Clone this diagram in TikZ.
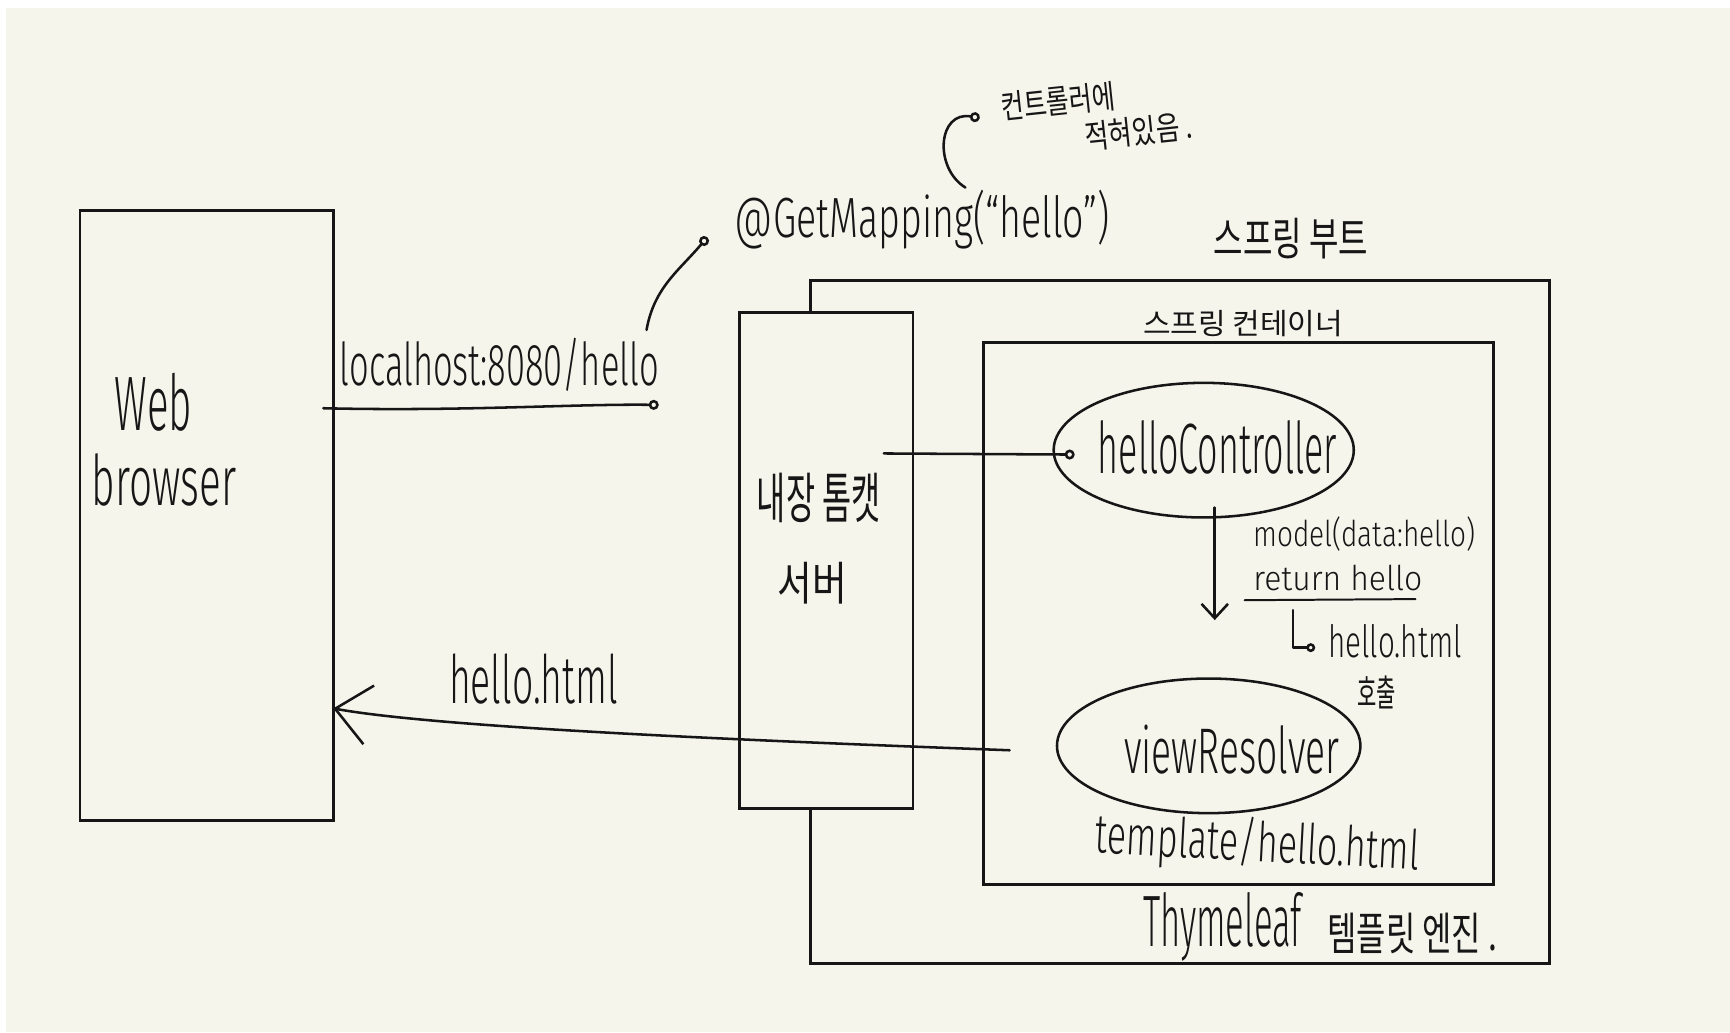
\documentclass[tikz,border=0pt]{standalone}
\usepackage{fontspec}
\setmainfont{Fira Sans Light}
\newfontfamily\kr{Noto Sans CJK KR}
\usetikzlibrary{arrows.meta,shapes.geometric,calc}
\definecolor{paper}{RGB}{245,245,236}
\definecolor{ink}{RGB}{22,22,22}
\newcommand{\fitw}[3]{\resizebox{#1pt}{#2pt}{#3}}
\newcommand{\fitk}[3]{\resizebox*{#1pt}{#2pt}{\kr #3}}
\tikzset{
  box/.style={draw=ink, line width=2.7pt, rectangle, inner sep=0pt, outer sep=0pt},
  ell/.style={draw=ink, line width=2.3pt, ellipse, inner sep=0pt, outer sep=0pt},
  pen/.style={draw=ink, line width=2.3pt, line cap=round, line join=round},
  lt/.style={inner sep=0pt, outer sep=0pt, anchor=base west, text=ink},
  kt/.style={inner sep=0pt, outer sep=0pt, anchor=center, text=ink},
  otip/.tip={Circle[open, length=9pt, width=9pt]},
  vtip/.tip={Straight Barb[length=13pt, width=24pt]},
  bigtip/.tip={Straight Barb[length=31pt, width=54pt]}
}
\begin{document}
\begin{tikzpicture}[x=1pt,y=1pt]
\useasboundingbox (0,0) rectangle (1568,-935.5);
\fill[white] (0,0) rectangle (1568,-935.5);
\fill[paper] (5.4,-7.3) rectangle (1568,-935.5);

% boxes
\node[box, minimum width=229.5pt, minimum height=552.8pt] (web) at (187.25,-467.6) {};
\node[box, minimum width=669pt, minimum height=619.2pt] (sb) at (1069.5,-563.4) {};
\node[box, minimum width=463pt, minimum height=491.5pt] (sc) at (1122.5,-555.75) {};
\node[box, fill=paper, minimum width=157.5pt, minimum height=450.2pt] (tc) at (748.75,-507.9) {};
\node[ell, minimum width=272pt, minimum height=122pt] (hc) at (1091,-408) {};
\node[ell, minimum width=275pt, minimum height=122pt] (vr) at (1095.5,-676) {};

% texts
\node[lt] (tweb) at (104,-390.6) {\fitw{70}{52}{Web}};
\node[lt] (tbrowser) at (83,-458) {\fitw{131}{47}{browser}};
\node[lt] (tlh) at (308,-349) {\fitw{289}{43}{localhost:8080/hello}};
\node[lt] (gm) at (666,-215) {\fitw{340}{43}{@GetMapping(“hello”)}};
\node[kt, rotate=6] (tnote1) at (959,-92) {\fitk{104}{27}{컨트롤러에}};
\node[kt, rotate=6] (tnote2) at (1032,-119) {\fitk{98}{27}{적혀있음 .}};
\node[kt] (tsb) at (1170,-216.5) {\fitk{140}{37}{스프링 부트}};
\node[kt] (tsc) at (1126.5,-293) {\fitk{181}{24}{스프링 컨테이너}};
\node[kt] (ttc1) at (742,-451.5) {\fitk{112}{45}{내장 톰캣}};
\node[kt] (ttc2) at (736.5,-529) {\fitk{63}{38}{서버}};
\node[lt] (thc) at (995,-429) {\fitw{217}{48}{helloController}};
\node[lt] (tmodel) at (1136,-495) {\fitw{201}{27}{model(data:hello)}};
\node[lt] (tret) at (1136,-535) {\fitw{153}{23}{return hello}};
\node[lt] (thtml) at (1204,-596) {\fitw{121}{30}{hello.html}};
\node[kt] (tcall) at (1248,-628) {\fitk{35}{30}{호출}};
\node[lt] (tvr) at (1019,-701) {\fitw{195}{44}{viewResolver}};
\node[lt, rotate=-3] (ttpl) at (992,-773) {\fitw{294}{40}{template/hello.html}};
\node[lt] (tret2) at (407,-637.7) {\fitw{153}{45}{hello.html}};
\node[lt] (tthy) at (1036,-858) {\fitw{144}{49}{Thymeleaf}};
\node[kt] (tthy2) at (1280,-846) {\fitk{154}{37}{템플릿 엔진 .}};

% connectors
\coordinate (lh0) at (293,-370);
\coordinate (lh1) at (597,-367);
\draw[pen,-{otip}] (lh0) .. controls (420,-373) and (520,-366) .. (lh1);

\coordinate (gm0) at (586,-299);
\draw[pen,-{otip}] (gm0) to[out=80,in=230] ($(gm.base west)+(-25,0)$);

\coordinate (nt0) at (875,-170);
\coordinate (nt1) at (888,-107);
\draw[pen,-{otip}] (nt0) .. controls (846,-152) and (850,-100) .. (nt1);

\coordinate (tc0) at (801,-411);
\draw[pen,-{otip}] (tc0) -- ($(hc.west)+(19,-4)$);

\coordinate (dn1) at (1101,-562);
\draw[pen,-{vtip}] ($(hc.south)+(10,9)$) -- (dn1);
\draw[pen, line width=1.8pt] (1128,-544) -- (1283,-543);
\draw[pen,-{Circle[open,length=8pt,width=8pt]}] (1172,-553) -- (1172,-587) -- (1192,-587);

\coordinate (rv0) at (915,-680);
\coordinate (rv1) at ($(web.north east)!0.8156!(web.south east)$);
\draw[pen,-{bigtip}] (rv0) .. controls (700,-672) and (400,-660) .. (rv1);
\end{tikzpicture}
\end{document}
